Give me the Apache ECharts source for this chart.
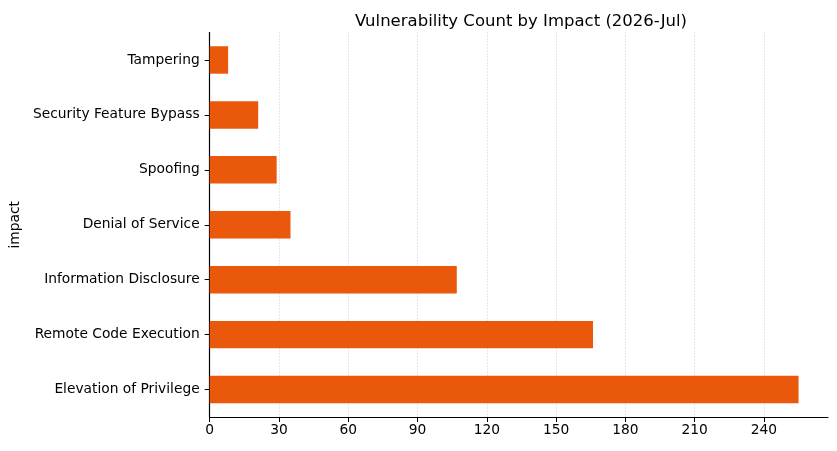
<!DOCTYPE html>
<html>
<head>
<meta charset="utf-8">
<script src="https://cdn.jsdelivr.net/npm/echarts@6/dist/echarts.min.js"></script>
<style>
  html, body { margin: 0; padding: 0; background: #fff; }
  #chart { width: 837px; height: 451px; }
</style>
</head>
<body>
<div id="chart"></div>
<script>
// bottom to top
const impacts = [
  'Elevation of Privilege',
  'Remote Code Execution',
  'Information Disclosure',
  'Denial of Service',
  'Spoofing',
  'Security Feature Bypass',
  'Tampering'
];
const counts = [255, 166, 107, 35, 29, 21, 8];
const xTicks = [0, 30, 60, 90, 120, 150, 180, 210, 240];

const font = 'DejaVu Sans';
const chart = echarts.init(document.getElementById('chart'));

chart.setOption({
  animation: false,
  backgroundColor: '#fff',
  title: {
    text: 'Vulnerability Count by Impact (2026-Jul)',
    left: 516,
    top: 8,
    textAlign: 'center',
    textStyle: { fontFamily: font, fontSize: 16.5, fontWeight: 'normal', color: '#000' }
  },
  grid: { left: 206, right: 9, top: 32.5, bottom: 34, containLabel: false },
  xAxis: {
    type: 'value',
    min: 0,
    max: 267.75,
    interval: 30,
    axisLine: { show: true, lineStyle: { color: '#000', width: 1.2 } },
    axisTick: { show: true, length: 5, lineStyle: { color: '#000' }, customValues: xTicks },
    axisLabel: { fontFamily: font, fontSize: 13.8, color: '#000', margin: 6, customValues: xTicks },
    splitLine: { show: true, lineStyle: { color: '#c8c8c8', type: [1, 2], width: 0.9 } }
  },
  yAxis: {
    type: 'category',
    data: impacts,
    name: 'impact',
    nameLocation: 'middle',
    nameGap: 180,
    nameRotate: 90,
    nameTextStyle: { fontFamily: font, fontSize: 13.8, color: '#000' },
    axisLine: { show: true, lineStyle: { color: '#000', width: 1.2 } },
    axisTick: { show: true, alignWithLabel: true, length: 5, lineStyle: { color: '#000' } },
    axisLabel: { fontFamily: font, fontSize: 13.8, color: '#000', margin: 10 },
    splitLine: { show: false }
  },
  series: [{
    type: 'bar',
    data: counts,
    barWidth: '50%',
    itemStyle: { color: '#ea580c' }
  }]
});
</script>
</body>
</html>
